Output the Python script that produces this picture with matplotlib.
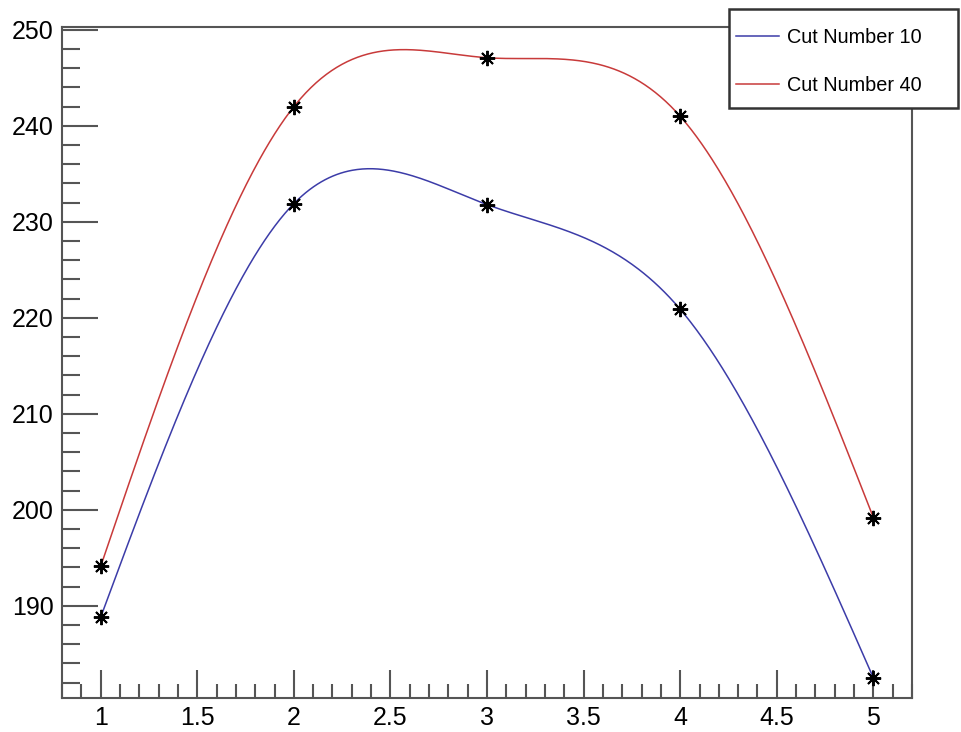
import numpy as np
import matplotlib.pyplot as plt
from matplotlib.patches import Rectangle
from matplotlib.ticker import MultipleLocator

plt.rcParams['font.family'] = ['Liberation Sans', 'DejaVu Sans']

# data
cut_x = [1, 2, 3, 4, 5]
cut10 = [188.8, 231.9, 231.8, 220.9, 182.5]
cut40 = [194.1, 242.0, 247.1, 241.0, 199.2]
labels = ['Cut Number 10', 'Cut Number 40']
colors = ['#3c3ca8', '#c83a3a']


def natural_spline(t, y, tt):
    # natural cubic spline through (t, y), evaluated at tt (ROOT "C" option look)
    t = np.asarray(t, float)
    y = np.asarray(y, float)
    n = len(t)
    h = np.diff(t)
    A = np.zeros((n, n))
    b = np.zeros(n)
    A[0, 0] = A[-1, -1] = 1
    for i in range(1, n - 1):
        A[i, i - 1] = h[i - 1]
        A[i, i] = 2 * (h[i - 1] + h[i])
        A[i, i + 1] = h[i]
        b[i] = 6 * ((y[i + 1] - y[i]) / h[i] - (y[i] - y[i - 1]) / h[i - 1])
    M = np.linalg.solve(A, b)
    idx = np.clip(np.searchsorted(t, tt) - 1, 0, n - 2)
    t0, t1 = t[idx], t[idx + 1]
    hh = t1 - t0
    return (M[idx] * (t1 - tt) ** 3 / (6 * hh) + M[idx + 1] * (tt - t0) ** 3 / (6 * hh)
            + (y[idx] / hh - M[idx] * hh / 6) * (t1 - tt)
            + (y[idx + 1] / hh - M[idx + 1] * hh / 6) * (tt - t0))


W, H = 961, 732
fig = plt.figure(figsize=(W / 100, H / 100), dpi=100)
ax = fig.add_axes([62 / W, 1 - 698 / H, (912 - 62) / W, (698 - 27) / H])
ax.set_xlim(0.8, 5.2)
ax.set_ylim(180.4, 250.3)

xs = np.linspace(min(cut_x), max(cut_x), 600)
handles = []
for ys, lab, col in zip([cut10, cut40], labels, colors):
    ln, = ax.plot(xs, natural_spline(cut_x, ys, xs), color=col, lw=1.1, label=lab)
    handles.append(ln)
    ax.plot(cut_x, ys, ls='none', marker=(8, 2, 0), ms=11, mew=1.4, color='black')

ax.xaxis.set_major_locator(MultipleLocator(0.5))
ax.xaxis.set_minor_locator(MultipleLocator(0.1))
ax.yaxis.set_major_locator(MultipleLocator(10))
ax.yaxis.set_minor_locator(MultipleLocator(2))
ax.xaxis.set_major_formatter(plt.FuncFormatter(lambda v, p: f'{v:g}'))
ax.tick_params(which='both', direction='in', top=False, right=False, color='#555555', width=1.5)
ax.tick_params(axis='x', which='major', length=20, labelsize=18, pad=6)
ax.tick_params(axis='x', which='minor', length=10)
ax.tick_params(axis='y', which='major', length=26, labelsize=18, pad=6)
ax.tick_params(axis='y', which='minor', length=13)
for sp in ax.spines.values():
    sp.set_color('#555555')
    sp.set_linewidth(1.5)

# legend box (ROOT style, fixed width)
fig.patches.append(Rectangle((729 / W, 1 - 108 / H), (958 - 729) / W, (108 - 9) / H,
                             transform=fig.transFigure, facecolor='white',
                             edgecolor='#333333', lw=1.8, zorder=5))
fig.legend(handles=handles, loc='upper left', bbox_to_anchor=(736 / W, 1 - 28 / H),
           frameon=False, fontsize=14.3, handlelength=2.16, handletextpad=0.4,
           labelspacing=1.46, borderaxespad=0, borderpad=0)

fig.savefig('out.png', dpi=100)
